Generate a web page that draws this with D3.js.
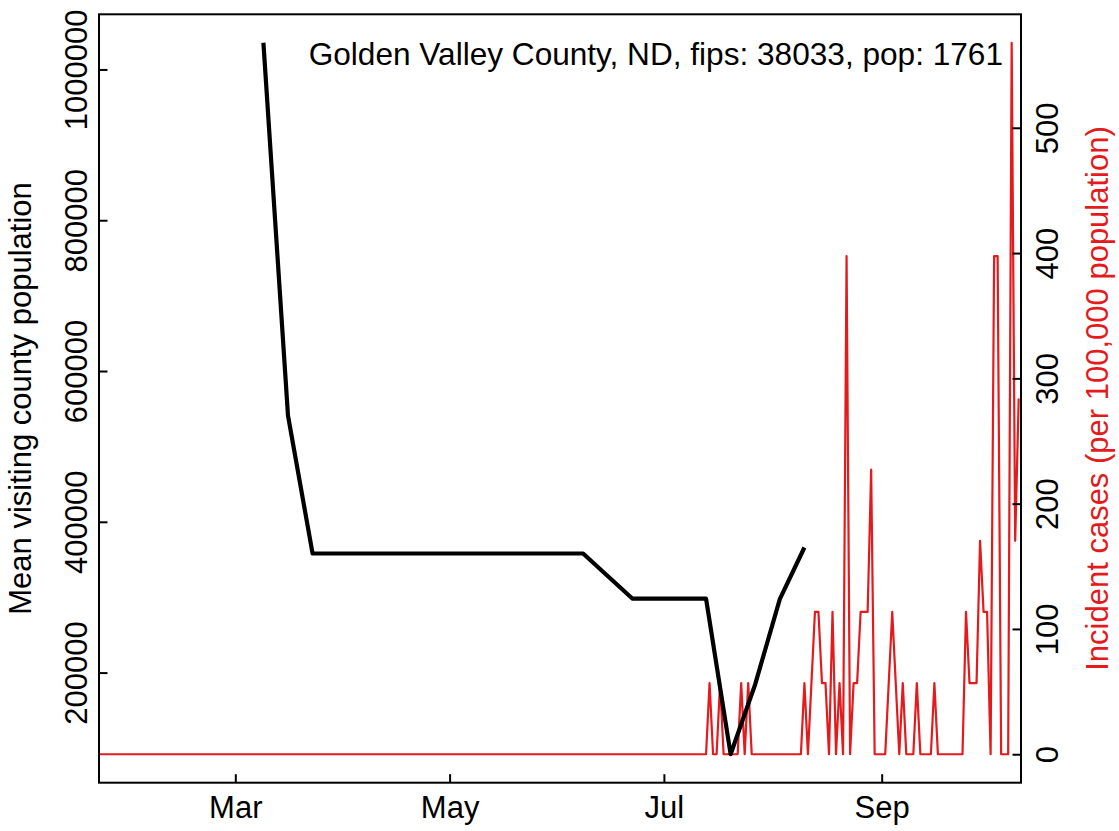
<!DOCTYPE html>
<html>
<head>
<meta charset="utf-8">
<script src="https://cdn.jsdelivr.net/npm/d3@7"></script>
<style>
  html, body { margin: 0; padding: 0; background: #ffffff; }
  svg { display: block; }
  text { font-family: "Liberation Sans", Arial, Helvetica, sans-serif; }
</style>
</head>
<body>
<svg id="chart" width="1119" height="831"></svg>
<script>
// ---------- data ----------
const titleText = "Golden Valley County, ND, fips: 38033, pop: 1761";
const leftAxisTitle = "Mean visiting county population";
const rightAxisTitle = "Incident cases (per 100,000 population)";

// Mean visiting county population (black line, weekly)
const popDates = ["2020-03-09","2020-03-16","2020-03-23","2020-06-08","2020-06-22",
                  "2020-07-13","2020-07-20","2020-07-27","2020-08-03","2020-08-10"];
const popValues = [1035400, 540700, 357950, 357950, 298200,
                   298200, 91700, 184600, 297400, 365900];

// Incident cases per 100,000 (red line, daily; zero runs given by their end points)
const caseDates = ["2020-01-22","2020-07-13","2020-07-14","2020-07-15","2020-07-16","2020-07-17","2020-07-18",
  "2020-07-22","2020-07-23","2020-07-24","2020-07-25","2020-07-26",
  "2020-08-09","2020-08-10","2020-08-11","2020-08-12","2020-08-13","2020-08-14","2020-08-15","2020-08-16",
  "2020-08-17","2020-08-18","2020-08-19","2020-08-20","2020-08-21","2020-08-22","2020-08-23","2020-08-24",
  "2020-08-25","2020-08-26","2020-08-27","2020-08-28","2020-08-29","2020-08-30",
  "2020-09-02","2020-09-03","2020-09-04","2020-09-05","2020-09-06","2020-09-07","2020-09-08",
  "2020-09-10","2020-09-11","2020-09-12","2020-09-15","2020-09-16","2020-09-17",
  "2020-09-24","2020-09-25","2020-09-26","2020-09-27","2020-09-28","2020-09-29","2020-09-30",
  "2020-10-01","2020-10-02","2020-10-03","2020-10-04","2020-10-05","2020-10-07","2020-10-08",
  "2020-10-09","2020-10-10"];
const caseValues = [0, 0, 56.79, 0, 0, 56.79, 0,
  0, 56.79, 0, 56.79, 0,
  0, 56.79, 0, 56.79, 113.57, 113.57, 56.79, 56.79,
  0, 113.57, 0, 56.79, 0, 397.5, 0, 56.79,
  56.79, 113.57, 113.57, 113.57, 227.14, 0,
  0, 56.79, 113.57, 56.79, 0, 56.79, 0,
  0, 56.79, 0, 0, 56.79, 0,
  0, 113.57, 56.79, 56.79, 56.79, 170.36, 113.57,
  113.57, 0, 397.5, 397.5, 0, 0, 567.86,
  170.36, 283.93];

const monthTickDates = ["2020-03-01","2020-05-01","2020-07-01","2020-09-01"];
const monthTickLabels = ["Mar","May","Jul","Sep"];
const leftTicks = [200000, 400000, 600000, 800000, 1000000];
const rightTicks = [0, 100, 200, 300, 400, 500];

// ---------- layout ----------
const W = 1119, H = 831;
const plot = { left: 99, right: 1021, top: 14.3, bottom: 782.7 };
const fontSize = 31;
const red = "#e41a1c";

const parse = d3.utcParse("%Y-%m-%d");
const pop = popDates.map((d, i) => ({ date: parse(d), value: popValues[i] }));
const cases = caseDates.map((d, i) => ({ date: parse(d), value: caseValues[i] }));

const svg = d3.select("#chart");
svg.append("rect").attr("width", W).attr("height", H).attr("fill", "#fff");

const x = d3.scaleUtc()
  .domain([cases[0].date, cases[cases.length - 1].date])
  .range([plot.left - 0.7, plot.right - 2.3]);

function padded(lo, hi) { const p = (hi - lo) * 0.04; return [lo - p, hi + p]; }
const yL = d3.scaleLinear()
  .domain(padded(d3.min(popValues), d3.max(popValues)))
  .range([plot.bottom, plot.top]);
const yR = d3.scaleLinear()
  .domain(padded(0, d3.max(caseValues)))
  .range([plot.bottom, plot.top]);

svg.append("clipPath").attr("id", "clip")
  .append("rect").attr("x", plot.left).attr("y", plot.top)
  .attr("width", plot.right - plot.left).attr("height", plot.bottom - plot.top);

const g = svg.append("g").attr("clip-path", "url(#clip)");

g.append("path")
  .datum(cases)
  .attr("fill", "none")
  .attr("stroke", red)
  .attr("stroke-width", 2.2)
  .attr("stroke-linejoin", "round")
  .attr("d", d3.line().x(d => x(d.date)).y(d => yR(d.value)));

g.append("path")
  .datum(pop)
  .attr("fill", "none")
  .attr("stroke", "#000")
  .attr("stroke-width", 4.2)
  .attr("stroke-linejoin", "round")
  .attr("stroke-linecap", "butt")
  .attr("d", d3.line().x(d => x(d.date)).y(d => yL(d.value)));

svg.append("rect")
  .attr("x", plot.left).attr("y", plot.top)
  .attr("width", plot.right - plot.left).attr("height", plot.bottom - plot.top)
  .attr("fill", "none").attr("stroke", "#000").attr("stroke-width", 2);

const tickLen = 8.5;

const xAxis = svg.append("g")
  .attr("transform", `translate(0,${plot.bottom})`)
  .call(d3.axisBottom(x)
    .tickValues(monthTickDates.map(parse))
    .tickFormat((d, i) => monthTickLabels[i])
    .tickSizeInner(-tickLen).tickSizeOuter(0));
xAxis.select(".domain").remove();
xAxis.selectAll("line").attr("stroke", "#000").attr("stroke-width", 2);
xAxis.selectAll("text")
  .attr("y", 35.6).attr("dy", 0)
  .attr("font-size", fontSize).attr("fill", "#000")
  .attr("font-family", "'Liberation Sans', Arial, sans-serif");

const lAxis = svg.append("g")
  .attr("transform", `translate(${plot.left},0)`)
  .call(d3.axisLeft(yL).tickValues(leftTicks).tickFormat(d3.format("d"))
    .tickSizeInner(-tickLen).tickSizeOuter(0));
lAxis.select(".domain").remove();
lAxis.selectAll("line").attr("stroke", "#000").attr("stroke-width", 2);
lAxis.selectAll("text")
  .attr("transform", "rotate(-90)")
  .attr("x", 0).attr("y", -11.7).attr("dy", 0)
  .attr("text-anchor", "middle")
  .attr("font-size", fontSize).attr("fill", "#000")
  .attr("font-family", "'Liberation Sans', Arial, sans-serif");

const rAxis = svg.append("g")
  .attr("transform", `translate(${plot.right},0)`)
  .call(d3.axisRight(yR).tickValues(rightTicks).tickFormat(d3.format("d"))
    .tickSizeInner(-tickLen).tickSizeOuter(0));
rAxis.select(".domain").remove();
rAxis.selectAll("line").attr("stroke", "#000").attr("stroke-width", 2);
rAxis.selectAll("text")
  .attr("transform", "rotate(-90)")
  .attr("x", 0).attr("y", 36.5).attr("dy", 0)
  .attr("text-anchor", "middle")
  .attr("font-size", fontSize).attr("fill", "#000")
  .attr("font-family", "'Liberation Sans', Arial, sans-serif");

const midY = (plot.top + plot.bottom) / 2;

svg.append("text")
  .attr("transform", `translate(31,${midY}) rotate(-90)`)
  .attr("text-anchor", "middle")
  .attr("font-size", fontSize).attr("fill", "#000")
  .text(leftAxisTitle);

svg.append("text")
  .attr("transform", `translate(1108,${midY}) rotate(-90)`)
  .attr("text-anchor", "middle")
  .attr("font-size", fontSize).attr("fill", red)
  .text(rightAxisTitle);

svg.append("text")
  .attr("x", 1003).attr("y", 65)
  .attr("text-anchor", "end")
  .attr("font-size", 31.6).attr("fill", "#000")
  .text(titleText);
</script>
</body>
</html>
